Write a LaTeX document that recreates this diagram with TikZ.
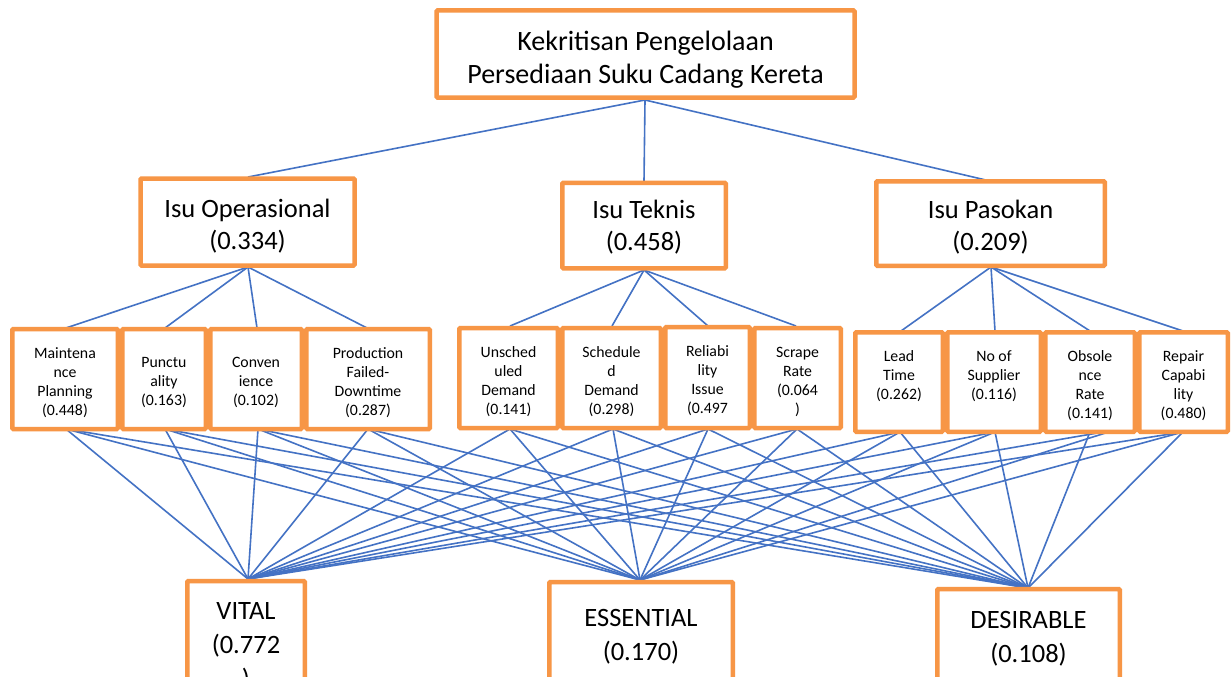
\documentclass[tikz,border=0pt]{standalone}
\usepackage{fontspec}
\setmainfont{Carlito}
\definecolor{boxorange}{HTML}{F79646}
\definecolor{linkblue}{HTML}{4472C4}
% #1 = twice the downward shift of the text
\newcommand\bxtext[2][8pt]{\raisebox{0pt}[\dimexpr\height+#1\relax][\depth]{\begin{tabular}{@{}c@{}}#2\end{tabular}}}
\begin{document}
\begin{tikzpicture}[x=1pt,y=-1pt,
  box/.style={draw=boxorange,line width=4.5pt,fill=white,inner sep=0pt,rounded corners=1pt},
  big/.style={font=\fontsize{28}{33}\selectfont},
  mid/.style={font=\fontsize{26.5}{32}\selectfont},
  small/.style={font=\fontsize{15.8}{19}\selectfont},
  bottomf/.style={font=\fontsize{26.5}{34}\selectfont},
  link/.style={draw=linkblue,line width=1.6pt}]
\clip (0,0) rectangle (1231,677);
\fill[white] (0,0) rectangle (1231,677);
\coordinate (topS) at (645,100);
\coordinate (opN) at (248,177);
\coordinate (tkN) at (644,181);
\coordinate (paN) at (990,181);
\coordinate (opS) at (248,267);
\coordinate (tkS) at (644,270);
\coordinate (paS) at (991,267);
% sub tops
\coordinate (mpN) at (66,328);
\coordinate (puN) at (165,328);
\coordinate (coN) at (257,328);
\coordinate (prN) at (367,328);
\coordinate (unN) at (510,326);
\coordinate (scN) at (612,326);
\coordinate (reN) at (708,326);
\coordinate (srN) at (796,326);
\coordinate (ltN) at (901,331);
\coordinate (nsN) at (995,331);
\coordinate (obN) at (1090,331);
\coordinate (rcN) at (1183,331);
% sub bottoms
\coordinate (mpS) at (66,429);
\coordinate (puS) at (165,429);
\coordinate (coS) at (258,429);
\coordinate (prS) at (368,429);
\coordinate (unS) at (510,429);
\coordinate (scS) at (613,429);
\coordinate (reS) at (708,429);
\coordinate (srS) at (797,429);
\coordinate (ltS) at (900,432);
\coordinate (nsS) at (995,432);
\coordinate (obS) at (1090,432);
\coordinate (obS2) at (1115,430);
\coordinate (rcS) at (1183,432);
% bottom tops
\coordinate (viN) at (248,579);
\coordinate (esN) at (640,580);
\coordinate (deN) at (1028,588);
% connectors
\draw[link] (topS) -- (opN);
\draw[link] (topS) -- (tkN);
\draw[link] (topS) -- (paN);
\foreach \s in {mp,pu,co,pr} \draw[link] (opS) -- (\s N);
\foreach \s in {un,sc,re,sr} \draw[link] (tkS) -- (\s N);
\foreach \s in {lt,ns,ob,rc} \draw[link] (paS) -- (\s N);
\foreach \s in {mp,pu,co,pr,un,sc,re,sr,lt,ns,rc}
  \foreach \t in {vi,es,de} \draw[link] (\s S) -- (\t N);
\draw[link] (obS2) -- (viN);
\draw[link] (obS2) -- (esN);
\draw[link] (obS) -- (deN);
% boxes
\node[box,big,minimum width=418pt,minimum height=87pt] (top) at (645.5,54) {\bxtext[12pt]{Kekritisan Pengelolaan\\Persediaan Suku Cadang Kereta}};
\node[box,mid,minimum width=214pt,minimum height=87pt] (op) at (247.5,222) {\bxtext[10pt]{Isu Operasional\\(0.334)}};
\node[box,mid,minimum width=163.5pt,minimum height=85.5pt] (tk) at (644,225.5) {\bxtext[6pt]{Isu Teknis\\(0.458)}};
\node[box,mid,minimum width=228.5pt,minimum height=84.5pt] (pa) at (990.5,223.5) {\bxtext[10pt]{Isu Pasokan\\(0.209)}};
% operasional subs
\node[box,small,minimum width=105.5pt,minimum height=100pt] (mp) at (65,379) {\bxtext{Maintena\\nce\\Planning\\(0.448)}};
\node[box,small,minimum width=83.5pt,minimum height=100pt] (pu) at (164,379) {\bxtext{Punctu\\ality\\(0.163)}};
\node[box,small,minimum width=91.5pt,minimum height=100pt] (co) at (256,379) {\bxtext{Conven\\ience\\(0.102)}};
\node[box,small,minimum width=123.5pt,minimum height=100pt] (pr) at (368,379) {\bxtext{Production\\Failed-\\Downtime\\(0.287)}};
% teknis subs
\node[box,small,minimum width=98.5pt,minimum height=100pt] (un) at (508.5,378) {\bxtext{Unsched\\uled\\Demand\\(0.141)}};
\node[box,small,minimum width=98.5pt,minimum height=100pt] (sc) at (611.5,378) {\bxtext{Schedule\\d\\Demand\\(0.298)}};
\node[box,small,minimum width=84.5pt,minimum height=101pt] (re) at (707.5,377.5) {\bxtext{Reliabi\\lity\\Issue\\(0.497}};
\node[box,small,minimum width=86.5pt,minimum height=100pt] (sr) at (797.5,378) {\bxtext{Scrape\\Rate\\(0.064\\)}};
% pasokan subs
\node[box,small,minimum width=87.5pt,minimum height=99.5pt] (lt) at (899,382) {\bxtext{Lead\\Time\\(0.262)\\~}};
\node[box,small,minimum width=93.5pt,minimum height=99.5pt] (ns) at (994,382) {\bxtext{No of\\Supplier\\(0.116)\\~}};
\node[box,small,minimum width=89.5pt,minimum height=99.5pt] (ob) at (1090,382) {\bxtext{Obsole\\nce\\Rate\\(0.141)}};
\node[box,small,minimum width=88.5pt,minimum height=99.5pt] (rc) at (1183.5,382) {\bxtext{Repair\\Capabi\\lity\\(0.480)}};
% bottom
\node[box,bottomf,minimum width=117.5pt,minimum height=130pt] (vi) at (246,646) {\bxtext[2pt]{VITAL\\(0.772\\)}};
\node[box,bottomf,minimum width=183.5pt,minimum height=104pt] (es) at (641,634) {\bxtext[6pt]{ESSENTIAL\\(0.170)}};
\node[box,bottomf,minimum width=182.5pt,minimum height=96pt] (de) at (1028.5,637) {\bxtext[4pt]{DESIRABLE\\(0.108)}};
\end{tikzpicture}
\end{document}
